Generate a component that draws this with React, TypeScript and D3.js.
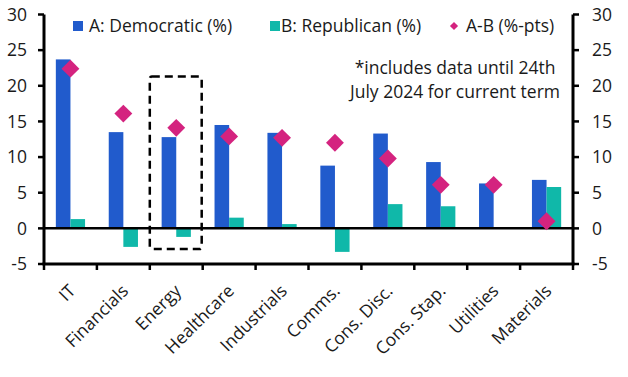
import React from "react";
import * as d3 from "d3";

const categories = ["IT", "Financials", "Energy", "Healthcare", "Industrials", "Comms.", "Cons. Disc.", "Cons. Stap.", "Utilities", "Materials"];
const democratic = [23.7, 13.5, 12.8, 14.5, 13.4, 8.8, 13.3, 9.3, 6.3, 6.8];
const republican = [1.3, -2.6, -1.2, 1.5, 0.6, -3.3, 3.4, 3.1, 0.0, 5.8];
const diff = [22.4, 16.1, 14.1, 12.9, 12.7, 12.0, 9.8, 6.1, 6.1, 1.0];
const yTicks = [-5, 0, 5, 10, 15, 20, 25, 30];
const seriesNames = ["A: Democratic (%)", "B: Republican (%)", "A-B (%-pts)"];
const noteLines = ["*includes data until 24th", "July 2024 for current term"];
const highlightRange = [21.3, -2.9];

const W = 628, H = 377;
const BLUE = "#215BCC", TEAL = "#10B8A9", PINK = "#D4237F";
const FONT = "'Open Sans', Lato, sans-serif";
const FS = 17.5;

export default function App() {
  const x = d3.scaleBand<string>().domain(categories).range([44, 573]).paddingInner(0).paddingOuter(0);
  const sub = d3.scaleBand<string>().domain(["A", "B"]).range([0, x.bandwidth()]).paddingInner(0).paddingOuter(0.81);
  const y = d3.scaleLinear().domain([-5, 30]).range([264, 14.5]);
  const diamond = d3.symbol().type(d3.symbolSquare).size(160)();
  const diamondSmall = d3.symbol().type(d3.symbolSquare).size(34)();
  const bw = sub.bandwidth();

  const energyX0 = x("Energy")!;
  const energyX1 = energyX0 + x.bandwidth();

  return (
    <svg width={W} height={H} style={{ position: "absolute", left: 0, top: 0, background: "#fff" }} fontFamily={FONT}>
      {categories.map((c, i) => {
        const x0 = x(c)!;
        const a = democratic[i], b = republican[i];
        return (
          <g key={c}>
            <rect x={x0 + sub("A")!} y={y(Math.max(0, a))} width={bw} height={Math.abs(y(a) - y(0))} fill={BLUE} />
            <rect x={x0 + sub("B")!} y={y(Math.max(0, b))} width={bw} height={Math.abs(y(b) - y(0))} fill={TEAL} />
          </g>
        );
      })}
      <line x1={44} x2={573} y1={y(0)} y2={y(0)} stroke="#000" strokeWidth={2.5} />
      {categories.map((c, i) => (
        <path key={c} d={diamond} transform={`translate(${x(c)! + x.bandwidth() / 2},${y(diff[i])}) rotate(45)`} fill={PINK} />
      ))}
      <rect x={energyX0} y={y(highlightRange[0])} width={energyX1 - energyX0 - 1} height={y(highlightRange[1]) - y(highlightRange[0])}
        fill="none" stroke="#000" strokeWidth={2.5} strokeDasharray="8,5" rx={2} />
      <line x1={44} x2={44} y1={y(30)} y2={y(-5)} stroke="#000" strokeWidth={3} />
      <line x1={573} x2={573} y1={y(30)} y2={y(-5)} stroke="#000" strokeWidth={3} />
      <line x1={42.5} x2={574.5} y1={y(-5)} y2={y(-5)} stroke="#000" strokeWidth={3} />
      {yTicks.map(t => (
        <g key={t}>
          <line x1={38} x2={44} y1={y(t)} y2={y(t)} stroke="#000" strokeWidth={2.5} />
          <line x1={573} x2={579} y1={y(t)} y2={y(t)} stroke="#000" strokeWidth={2.5} />
          <text x={27} y={y(t)} dy="0.36em" textAnchor="end" fontSize={FS} fill="#1a1a1a">{t}</text>
          <text x={592} y={y(t)} dy="0.36em" textAnchor="start" fontSize={FS} fill="#1a1a1a">{t}</text>
        </g>
      ))}
      {[...categories.map(c => x(c)!), 573].map((v, i) => (
        <line key={i} x1={v} x2={v} y1={y(-5)} y2={y(-5) + 6} stroke="#000" strokeWidth={2.5} />
      ))}
      {categories.map(c => {
        const cx = x(c)! + x.bandwidth() / 2 + 6;
        return (
          <text key={c} transform={`translate(${cx},${292}) rotate(-45)`} textAnchor="end" fontSize={FS} fill="#1a1a1a">{c}</text>
        );
      })}
      <rect x={73} y={21} width={10} height={10} fill={BLUE} />
      <text x={89} y={32} fontSize={FS} fill="#1a1a1a">{seriesNames[0]}</text>
      <rect x={270} y={21} width={10} height={10} fill={TEAL} />
      <text x={281} y={32} fontSize={FS} fill="#1a1a1a">{seriesNames[1]}</text>
      <path d={diamondSmall} transform={`translate(454,26) rotate(45)`} fill={PINK} />
      <text x={466} y={32} fontSize={FS} fill="#1a1a1a">{seriesNames[2]}</text>
      {noteLines.map((l, i) => (
        <text key={i} x={455} y={74 + i * 24} textAnchor="middle" fontSize={FS} fill="#1a1a1a">{l}</text>
      ))}
    </svg>
  );
}
